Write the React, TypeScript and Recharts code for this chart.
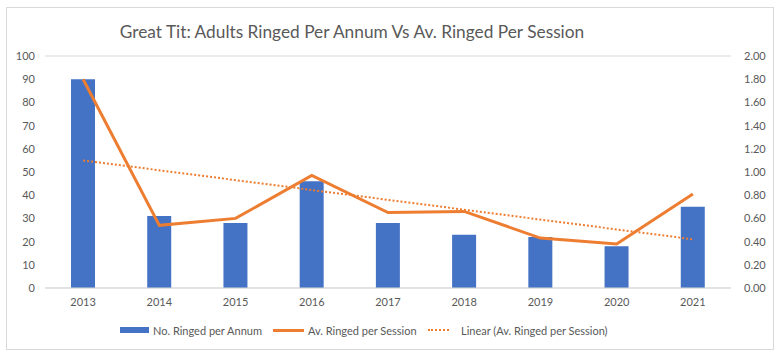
import React from 'react'
import { ComposedChart, Bar, Line, XAxis, YAxis, CartesianGrid } from 'recharts'

const years = ['2013', '2014', '2015', '2016', '2017', '2018', '2019', '2020', '2021']
const ringedPerAnnum = [90, 31, 28, 46, 28, 23, 22, 18, 35]
const avPerSession = [1.8, 0.54, 0.6, 0.97, 0.65, 0.66, 0.43, 0.38, 0.81]
// trend line end points (Excel linear trendline), middle left empty
const linearTrend = [1.1, null, null, null, null, null, null, null, 0.42]

const leftTicks = [0, 10, 20, 30, 40, 50, 60, 70, 80, 90, 100]
const rightTicks = [0, 0.2, 0.4, 0.6, 0.8, 1, 1.2, 1.4, 1.6, 1.8, 2]

const data = years.map((year, i) => ({
  year,
  annum: ringedPerAnnum[i],
  session: avPerSession[i],
  trend: linearTrend[i],
}))

const FONT = 'Lato, "Open Sans", sans-serif'
const TEXT = '#595959'
const BLUE = '#4472c4'
const ORANGE = '#ed7d31'

function LegendRow() {
  const item = { position: 'absolute', top: 0, display: 'flex', alignItems: 'center', height: 16 } as const
  return (
    <div
      style={{
        position: 'absolute',
        top: 322,
        left: 0,
        fontFamily: FONT,
        fontSize: 11,
        color: TEXT,
        whiteSpace: 'nowrap',
      }}
    >
      <div style={{ ...item, left: 120 }}>
        <span style={{ width: 29, height: 6, background: BLUE, display: 'inline-block' }} />
        <span style={{ marginLeft: 4 }}>No. Ringed per Annum</span>
      </div>
      <div style={{ ...item, left: 273 }}>
        <span style={{ width: 31, height: 3, background: ORANGE, display: 'inline-block' }} />
        <span style={{ marginLeft: 4 }}>Av. Ringed per Session</span>
      </div>
      <div style={{ ...item, left: 428 }}>
        <span style={{ width: 21, borderTop: `2px dotted ${ORANGE}`, display: 'inline-block' }} />
        <span style={{ marginLeft: 12 }}>Linear (Av. Ringed per Session)</span>
      </div>
    </div>
  )
}

export default function App() {
  return (
    <div style={{ position: 'relative', width: 780, height: 356, background: '#fff' }}>
      <style>{'html,body{margin:0;padding:0;background:#fff}'}</style>
      <div
        style={{
          position: 'absolute',
          left: 6,
          top: 7,
          width: 768,
          height: 343,
          boxSizing: 'border-box',
          border: '1px solid #d9d9d9',
        }}
      />
      <div
        style={{
          position: 'absolute',
          top: 21,
          left: 0,
          width: 704,
          textAlign: 'center',
          fontFamily: FONT,
          fontSize: 17.3,
          color: TEXT,
        }}
      >
        Great Tit: Adults Ringed Per Annum Vs Av. Ringed Per Session
      </div>
      <div style={{ position: 'absolute', top: 0, left: 0 }}>
        <ComposedChart
          width={780}
          height={356}
          data={data}
          margin={{ top: 56, right: 0, bottom: 38, left: 0 }}
          barCategoryGap="34%"
        >
          <CartesianGrid vertical={false} stroke="#d9d9d9" />
          <XAxis
            dataKey="year"
            tickLine={false}
            axisLine={{ stroke: '#d9d9d9' }}
            tick={{ fill: TEXT, fontSize: 11, fontFamily: FONT }}
            tickMargin={4}
            height={30}
          />
          <YAxis
            yAxisId="left"
            domain={[0, 100]}
            ticks={leftTicks}
            interval={0}
            width={45}
            axisLine={false}
            tickLine={false}
            tick={{ fill: TEXT, fontSize: 11, fontFamily: FONT }}
            tickMargin={4}
          />
          <YAxis
            yAxisId="right"
            orientation="right"
            domain={[0, 2]}
            ticks={rightTicks}
            interval={0}
            width={49}
            axisLine={false}
            tickLine={false}
            tickFormatter={(v: number) => v.toFixed(2)}
            tick={{ fill: TEXT, fontSize: 11, fontFamily: FONT }}
            tickMargin={7}
          />
          <Bar yAxisId="left" dataKey="annum" fill={BLUE} barSize={24} isAnimationActive={false} />
          <Line
            yAxisId="right"
            type="linear"
            dataKey="session"
            stroke={ORANGE}
            strokeWidth={3}
            dot={false}
            isAnimationActive={false}
          />
          <Line
            yAxisId="right"
            type="linear"
            dataKey="trend"
            stroke={ORANGE}
            strokeWidth={2}
            strokeDasharray="2 2"
            dot={false}
            connectNulls
            isAnimationActive={false}
          />
        </ComposedChart>
      </div>
      <LegendRow />
    </div>
  )
}
